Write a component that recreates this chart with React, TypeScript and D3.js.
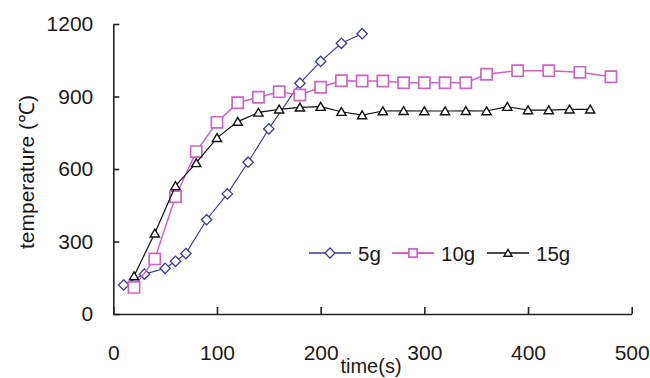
import React, { useEffect, useRef } from "react";
import * as d3 from "d3";

const xTicks = [0, 100, 200, 300, 400, 500];
const yTicks = [0, 300, 600, 900, 1200];

const time5 = [10, 30, 50, 60, 70, 90, 110, 130, 150, 180, 200, 220, 240];
const temp5 = [120, 165, 189, 218, 250, 390, 497, 628, 766, 955, 1045, 1120, 1160];

const time10 = [20, 40, 60, 80, 100, 120, 140, 160, 180, 200, 220, 240, 260, 280, 300, 320, 340, 360, 390, 420, 450, 480];
const temp10 = [110, 228, 485, 672, 793, 874, 897, 920, 906, 938, 965, 964, 964, 957, 957, 957, 957, 992, 1007, 1007, 1000, 982];

const time15 = [20, 40, 60, 80, 100, 120, 140, 160, 180, 200, 220, 240, 260, 280, 300, 320, 340, 360, 380, 400, 420, 440, 460];
const temp15 = [157, 334, 530, 625, 729, 796, 834, 847, 855, 858, 837, 823, 840, 841, 840, 840, 841, 840, 858, 844, 844, 847, 847];

const seriesNames = ["5g", "10g", "15g"];

const FONT = "'Liberation Sans', Arial, sans-serif";

export default function App() {
  const ref = useRef<SVGSVGElement | null>(null);

  useEffect(() => {
    const svg = d3.select(ref.current);
    svg.selectAll("*").remove();

    const x = d3.scaleLinear().domain([0, 500]).range([113.3, 631.7]);
    const y = d3.scaleLinear().domain([0, 1200]).range([314, 24]);

    const series = [
      { name: seriesNames[0], t: time5, v: temp5, color: "#3a3a98", shape: "diamond", size: 5.2, sw: 1.1 },
      { name: seriesNames[1], t: time10, v: temp10, color: "#cc66c4", shape: "square", size: 5.6, sw: 1.5 },
      { name: seriesNames[2], t: time15, v: temp15, color: "#111111", shape: "triangle", size: 4.6, sw: 1.2 },
    ];

    const markerPath = (shape: string, s: number) => {
      if (shape === "diamond") return `M0,${-s}L${s},0L0,${s}L${-s},0Z`;
      if (shape === "square") return `M${-s},${-s}H${s}V${s}H${-s}Z`;
      const h = s * 1.6;
      return `M0,${-h / 2 - 0.5}L${s},${h / 2}L${-s},${h / 2}Z`;
    };

    const xAxis = d3
      .axisBottom(x)
      .tickValues(xTicks)
      .tickSizeInner(-7)
      .tickSizeOuter(0)
      .tickPadding(31)
      .tickFormat(d3.format("d"));
    const gx = svg.append("g").attr("transform", `translate(0,${y(0)})`).call(xAxis);

    const yAxis = d3
      .axisLeft(y)
      .tickValues(yTicks)
      .tickSizeInner(-6)
      .tickSizeOuter(0)
      .tickPadding(20)
      .tickFormat(d3.format("d"));
    const gy = svg.append("g").attr("transform", `translate(${x(0)},0)`).call(yAxis);

    [gx, gy].forEach((g) => {
      g.select(".domain").attr("stroke", "#222").attr("stroke-width", 1.6);
      g.selectAll(".tick line").attr("stroke", "#222").attr("stroke-width", 1.6);
      g.selectAll(".tick text")
        .attr("fill", "#1a1a1a")
        .attr("font-family", FONT)
        .attr("font-size", 21);
    });

    series.forEach((s) => {
      const pts = s.t.map((t, i) => [x(t), y(s.v[i])] as [number, number]);
      svg
        .append("path")
        .attr("d", d3.line()(pts))
        .attr("fill", "none")
        .attr("stroke", s.color)
        .attr("stroke-width", s.sw);
      svg
        .append("g")
        .selectAll("path")
        .data(pts)
        .join("path")
        .attr("transform", (d) => `translate(${d[0]},${d[1]})`)
        .attr("d", markerPath(s.shape, s.size))
        .attr("fill", "white")
        .attr("stroke", s.color)
        .attr("stroke-width", s.sw + 0.2);
    });

    const legendX = [309, 392, 487];
    const legendY = 253;
    const legendMarker = [5, 4.2, 4];
    series.forEach((s, i) => {
      const g = svg.append("g").attr("transform", `translate(${legendX[i]},${legendY})`);
      g.append("line")
        .attr("x1", 0)
        .attr("x2", 42)
        .attr("y1", 0)
        .attr("y2", 0)
        .attr("stroke", s.color)
        .attr("stroke-width", s.sw + 0.3);
      g.append("path")
        .attr("transform", "translate(21,0)")
        .attr("d", markerPath(s.shape, legendMarker[i]))
        .attr("fill", "white")
        .attr("stroke", s.color)
        .attr("stroke-width", s.sw + 0.2);
      g.append("text")
        .attr("x", 49)
        .attr("y", 7.5)
        .attr("font-family", FONT)
        .attr("font-size", 20.5)
        .attr("fill", "#1a1a1a")
        .text(s.name);
    });

    svg
      .append("text")
      .attr("x", 371)
      .attr("y", 373)
      .attr("text-anchor", "middle")
      .attr("font-family", FONT)
      .attr("font-size", 20)
      .attr("fill", "#1a1a1a")
      .text("time(s)");
    svg
      .append("text")
      .attr("transform", "translate(34,172) rotate(-90)")
      .attr("text-anchor", "middle")
      .attr("font-family", FONT)
      .attr("font-size", 21)
      .attr("fill", "#1a1a1a")
      .text("temperature (℃)");
  }, []);

  return (
    <svg
      ref={ref}
      width={650}
      height={378}
      style={{ position: "absolute", left: 0, top: 0, background: "white" }}
    />
  );
}
